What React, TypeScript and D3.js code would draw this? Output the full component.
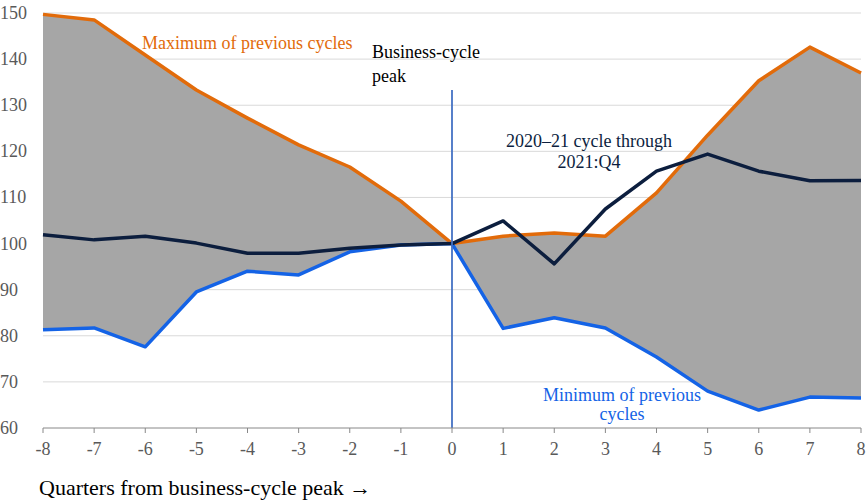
import React from "react";
import * as d3 from "d3";

const quarters = [-8, -7, -6, -5, -4, -3, -2, -1, 0, 1, 2, 3, 4, 5, 6, 7, 8];
const maxPrev = [149.7, 148.5, 140.9, 133.3, 127.2, 121.4, 116.6, 109.2, 100, 101.6, 102.3, 101.6, 111, 123.5, 135.3, 142.6, 137];
const minPrev = [81.3, 81.7, 77.6, 89.5, 94, 93.2, 98.2, 99.7, 100, 81.6, 83.9, 81.7, 75.4, 68, 63.9, 66.7, 66.5];
const current = [101.9, 100.8, 101.6, 100.1, 97.9, 97.9, 99, 99.7, 100, 104.9, 95.6, 107.5, 115.7, 119.4, 115.7, 113.6, 113.7];
const yTicks = [60, 70, 80, 90, 100, 110, 120, 130, 140, 150];

const W = 867, H = 504;
const FONT = "Liberation Serif, Tinos, Times New Roman, serif";

export default function App() {
  const x = d3.scaleLinear().domain([-8, 8]).range([43, 861]);
  const y = d3.scaleLinear().domain([60, 150]).range([428, 13]);
  const area = d3.area<number>()
    .x((_, i) => x(quarters[i]))
    .y0((_, i) => y(minPrev[i]))
    .y1((_, i) => y(maxPrev[i]));
  const line = (vals: number[]) =>
    d3.line<number>().x((_, i) => x(quarters[i])).y((d) => y(d))(vals) || "";
  const ts = { fontFamily: FONT };

  return (
    <svg width={W} height={H} style={{ position: "absolute", left: 0, top: 0, fontFamily: FONT }}>
      <rect width={W} height={H} fill="#fff" />
      {yTicks.filter((t) => t > 60).map((t) => (
        <line key={t} x1={x(-8)} x2={x(8)} y1={y(t)} y2={y(t)} stroke="#d9d9d9" strokeWidth={1} />
      ))}
      <path d={area(quarters) || ""} fill="#a6a6a6" />
      <path d={line(maxPrev)} fill="none" stroke="#e26b0a" strokeWidth={3.5} strokeLinejoin="round" />
      <path d={line(minPrev)} fill="none" stroke="#1463e6" strokeWidth={3.5} strokeLinejoin="round" />
      <path d={line(current)} fill="none" stroke="#0c1e3e" strokeWidth={3.5} strokeLinejoin="round" />
      <line x1={x(0)} x2={x(0)} y1={90} y2={y(60)} stroke="#4472c4" strokeWidth={1.8} />
      <line x1={x(-8)} x2={x(8)} y1={y(60)} y2={y(60)} stroke="#888" strokeWidth={1} />
      {quarters.map((q) => (
        <g key={q}>
          <line x1={x(q)} x2={x(q)} y1={y(60)} y2={y(60) + 5} stroke="#888" strokeWidth={1} />
          <text style={ts} x={x(q)} y={y(60) + 27} textAnchor="middle" fontSize={18} fill="#595959">{q}</text>
        </g>
      ))}
      {yTicks.map((t) => (
        <text style={ts} key={t} x={0} y={y(t) + 6} fontSize={18} fill="#595959">{t}</text>
      ))}
      <text style={ts} x={39} y={495} fontSize={22} fill="#000">Quarters from business-cycle peak →</text>
      <text style={ts} x={142} y={49} fontSize={18} fill="#e26b0a">Maximum of previous cycles</text>
      <text style={ts} x={372} y={58} fontSize={18} fill="#000">Business-cycle</text>
      <text style={ts} x={372} y={82} fontSize={18} fill="#000">peak</text>
      <text style={ts} x={589} y={147} fontSize={18} fill="#0c1e3e" textAnchor="middle">2020–21 cycle through</text>
      <text style={ts} x={589} y={168} fontSize={18} fill="#0c1e3e" textAnchor="middle">2021:Q4</text>
      <text style={ts} x={622} y={401} fontSize={18} fill="#1463e6" textAnchor="middle">Minimum of previous</text>
      <text style={ts} x={622} y={420} fontSize={18} fill="#1463e6" textAnchor="middle">cycles</text>
    </svg>
  );
}
